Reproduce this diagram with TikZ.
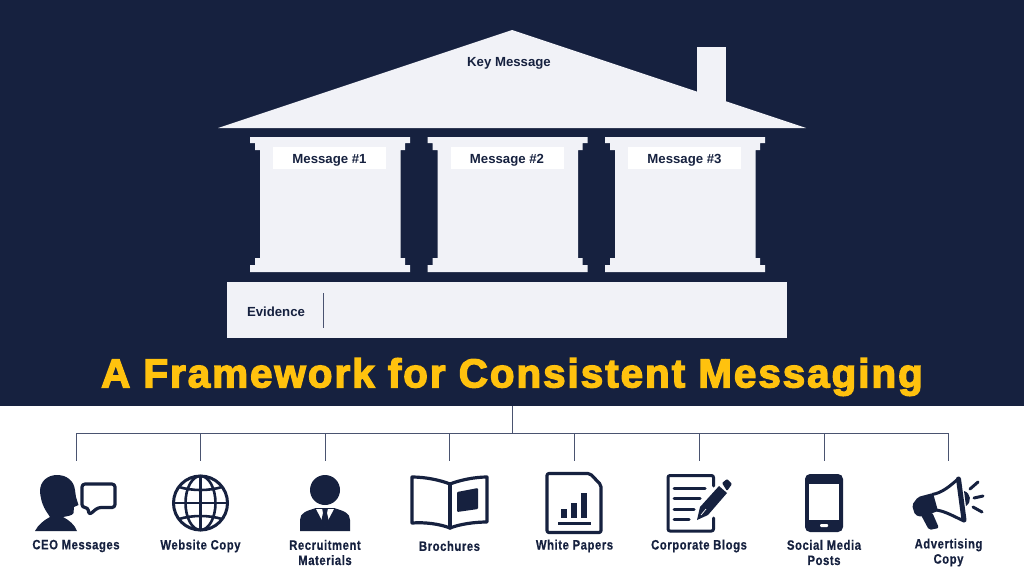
\documentclass[tikz,border=0pt]{standalone}
\usepackage{fontspec}
\setmainfont{Liberation Sans}
\newfontfamily\titlefont[LetterSpace=5,FakeBold=3.4]{Liberation Sans Bold}
\newfontfamily\labelfont[LetterSpace=5,FakeBold=0.5]{Liberation Sans Bold}
\definecolor{navy}{HTML}{16213F}
\definecolor{pale}{HTML}{F1F2F7}
\definecolor{gold}{HTML}{FFC20E}
\definecolor{wire}{HTML}{4A5370}
\tikzset{
    head/.style={font=\bfseries\fontsize{13.2}{15}\selectfont,text=navy,inner sep=0pt},
    tag/.style={head,fill=white,minimum width=113pt,minimum height=22pt,text height=10pt,text depth=0pt},
    caption/.style={font=\labelfont\fontsize{13.6}{15.2}\selectfont,text=navy,align=center,inner sep=0pt,xscale=0.83},
    wire/.style={draw=wire,line width=1pt},
    solid icon/.style={fill=navy,draw=none},
    outline/.style={draw=navy,line width=3.2pt,line join=round,line cap=round},
    pillar/.style={fill=pale,draw=none}
}
\newcommand{\pillarshape}[1]{
    \fill[pillar,xshift=#1pt] (250,137) -- (410,137) -- (410,143) -- (405,143) -- (405,150) -- (400.5,150)
        -- (400.5,258) -- (405,258) -- (405,265) -- (410,265) -- (410,272) -- (250,272) -- (250,265)
        -- (255,265) -- (255,258) -- (260,258) -- (260,150) -- (255,150) -- (255,143) -- (250,143) -- cycle;
}
\begin{document}
\begin{tikzpicture}[x=1pt,y=-1pt]
    \useasboundingbox (0,0) rectangle (1024,576);
    \fill[navy] (0,0) rectangle (1024,406);
    \fill[white] (0,406) rectangle (1024,576);

    % house
    \fill[pale] (697,128) -- (697,47) -- (726,47) -- (726,128) -- cycle;
    \fill[pale] (218,128) -- (512,30) -- (806,128) -- cycle;
    \pillarshape{0}
    \pillarshape{177.5}
    \pillarshape{355}
    \fill[pale] (227,282) rectangle (787,338);
    \draw (509,63) node[head] (key) {Key Message};
    \draw (329.5,158) node[tag] (msgone) {Message \#1};
    \draw (507,158) node[tag] (msgtwo) {Message \#2};
    \draw (684.5,158) node[tag] (msgthree) {Message \#3};
    \draw (276,311.5) node[head] (evidence) {Evidence};
    \coordinate (divtop) at (323,293);
    \coordinate (divbot) at (323,328);
    \draw[draw=wire,line width=0.8pt] (divtop) -- (divbot);

    \draw (512,377) node[inner sep=0pt,text=gold,font=\titlefont\fontsize{40.3}{46}\selectfont] (title) {A Framework for Consistent Messaging};

    % tree
    \coordinate (trunk) at (512,406);
    \coordinate (bus) at (512,433);
    \coordinate (busl) at (76,433);
    \coordinate (busr) at (948.5,433);
    \draw[wire] (trunk) -- (bus);
    \draw[wire,line cap=rect] (busl) -- (busr);
    \foreach \nm/\xx in {a/76,b/200.5,c/325,d/449.5,e/574.5,f/699,g/824,h/948.5} {
        \coordinate (top\nm) at (\xx,433);
        \coordinate (end\nm) at (\xx,461);
        \draw[wire] (top\nm) -- (end\nm);
    }

    % captions
    \draw (76,546) node[caption] (ceo) {CEO Messages};
    \draw (200.5,546) node[caption] (web) {Website Copy};
    \draw (325,552.5) node[caption] (rec) {Recruitment\\Materials};
    \draw (449.5,546) node[caption] (bro) {Brochures};
    \draw (574.5,546) node[caption] (wpa) {White Papers};
    \draw (699,546) node[caption] (blog) {Corporate Blogs};
    \draw (824,552.5) node[caption] (soc) {Social Media\\Posts};
    \draw (948.5,552.5) node[caption] (adv) {Advertising\\Copy};

    % ceo icon
    \fill[solid icon] (35,531) .. controls (38,525) and (44,520) .. (50,517)
        .. controls (47,512) and (41,506) .. (40,491) .. controls (40,481) and (48,475) .. (57,475)
        .. controls (67,475) and (74,481) .. (75,490) -- (76,497) -- (78.5,505) -- (74,507) -- (73.5,513)
        .. controls (72,516) and (67,516) .. (63,517) .. controls (69,520) and (75,525) .. (77,531) -- cycle;
    \draw[outline,rounded corners=3pt] (82,484) -- (115,484) -- (115,507.5) -- (98,507.5) -- (89,515) -- (88,507.5) -- (82,507.5) -- cycle;

    % globe icon
    \draw[draw=navy,line width=3pt] (200.5,503) circle (27pt);
    \draw[draw=navy,line width=2.6pt] (200.5,503) ellipse (15pt and 27pt);
    \draw[draw=navy,line width=2.6pt] (200.5,476) -- (200.5,530);
    \draw[draw=navy,line width=2.6pt] (173.5,503) -- (227.5,503);
    \draw[draw=navy,line width=2.6pt] (179,487) .. controls (192,491) and (209,491) .. (222,487);
    \draw[draw=navy,line width=2.6pt] (179,519) .. controls (192,515) and (209,515) .. (222,519);

    % recruitment icon
    \fill[navy] (325,490) circle (15pt);
    \fill[solid icon] (300,531) -- (300,520) .. controls (300,513) and (306,511) .. (316,508) -- (334,508)
        .. controls (344,511) and (350,513) .. (350,520) -- (350,531) -- cycle;
    \fill[white] (316,509) -- (334,509) -- (325,526) -- cycle;
    \fill[navy] (322,508) -- (328,508) -- (327,513) -- (329,522) -- (325,527) -- (321,522) -- (323,513) -- cycle;

    % brochure icon
    \draw[outline] (412,477) .. controls (425,477) and (440,480) .. (450,484) .. controls (460,480) and (475,477) .. (487,477)
        -- (487,522) .. controls (475,522) and (460,524) .. (450,528) .. controls (440,524) and (425,522) .. (412,523) -- cycle;
    \draw[outline] (450,484) -- (450,528);
    \fill[solid icon,rounded corners=1pt] (457,492) -- (478,488) -- (478,509) -- (457,512) -- cycle;

    % white paper icon
    \draw[outline,rounded corners=2pt] (547,473.5) -- (590,473.5) -- (601,485) -- (601,532.5) -- (547,532.5) -- cycle;
    \fill[solid icon] (560.5,509) rectangle (567,518);
    \fill[solid icon] (570.5,503) rectangle (577,518);
    \fill[solid icon] (580.5,493) rectangle (587,518);
    \draw[draw=navy,line width=3pt] (558,523) -- (591,523);

    % blog icon
    \draw[outline,line width=3pt,rounded corners=2pt] (713.5,486) -- (713.5,475.5) -- (668,475.5) -- (668,531) -- (713.5,531) -- (713.5,518);
    \draw[outline,line width=3pt] (674,488) -- (705,488);
    \draw[outline,line width=3pt] (674,498) -- (700,498);
    \draw[outline,line width=3pt] (674,509) -- (694,509);
    \draw[outline,line width=3pt] (674,519) -- (689,519);
    \fill[solid icon] (719,486) -- (727,493) -- (708,515) -- (697,520) -- (700,507) -- cycle;
    \fill[solid icon,rounded corners=1pt] (722,483) -- (727,479) -- (732,484) -- (727,491) -- cycle;
    \draw[draw=white,line width=0.7pt] (701,515) -- (706,509);

    % phone icon
    \fill[solid icon,rounded corners=5pt] (805,474) rectangle (843,532);
    \fill[white] (809,484) rectangle (839,520);
    \fill[white,rounded corners=1pt] (820,524) rectangle (828,527);

    % megaphone icon
    \fill[solid icon,rounded corners=2pt] (918,497) -- (933,493) -- (938,511) -- (922,517) -- (915,515) -- (912,505) -- cycle;
    \fill[solid icon,rounded corners=2pt] (921,515) -- (932,512) -- (939,528) -- (929,530) -- cycle;
    \draw[draw=navy,line width=3pt] (932,494.5) .. controls (942,493) and (950,486) .. (958,479);
    \draw[draw=navy,line width=3pt] (936,510) .. controls (945,511) and (955,517) .. (964,521);
    \draw[draw=navy,line width=5pt,line cap=round] (958.5,479) -- (964,520);
    \fill[navy] (964,491) .. controls (971,493) and (972,502) .. (966,506) -- cycle;
    \draw[outline,line width=3pt] (970,489) -- (978,482);
    \draw[outline,line width=3pt] (974,498) -- (983,496);
    \draw[outline,line width=3pt] (973,507) -- (982,512);
\end{tikzpicture}
\end{document}
